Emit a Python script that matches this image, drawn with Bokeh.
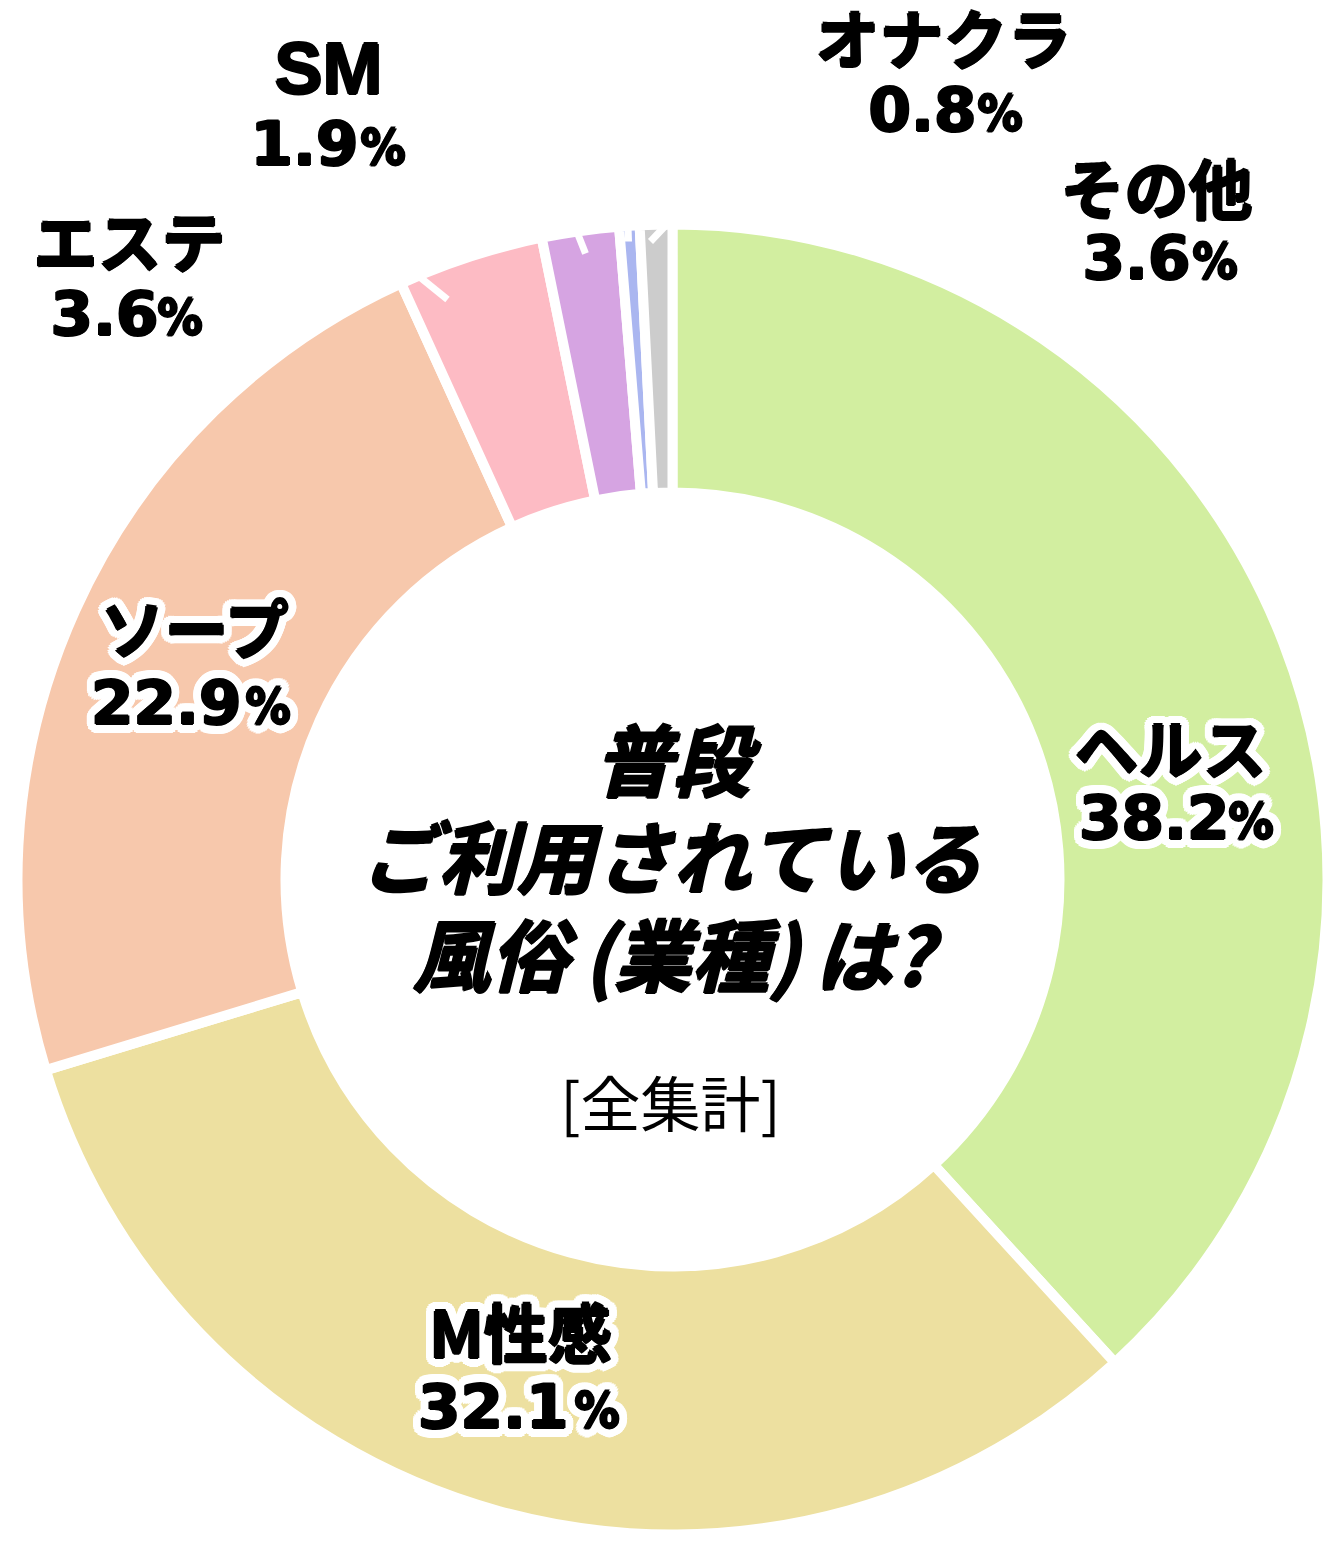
import math
from bokeh.plotting import figure
from bokeh.models import Range1d, ColumnDataSource
from bokeh.core.properties import value
from bokeh.embed import file_html
from bokeh.resources import INLINE

# ---------------- data ----------------
categories = ["ヘルス", "M性感", "ソープ", "エステ", "SM", "オナクラ", "その他"]
shares = [38.2, 32.1, 22.9, 3.6, 1.9, 0.5, 0.8]          # slice sizes as drawn
pct_text = ["38.2", "32.1", "22.9", "3.6", "1.9", "0.8", "3.6"]  # printed labels
colors = ["#d2eea0", "#ede0a0", "#f7c8ac", "#fdbbc4", "#d6a4e2", "#aab6f0", "#cccccc"]

title_lines = ["普段", "ご利用されている", "風俗\u2009(業種)\u2009は?"]
subtitle = "[全集計]"

# ---------------- layout (reference pixel coords, y down) ----------------
CX, CY = 672, 879
R_OUT, R_IN = 655, 387
name_x = [1170, 520, 196, 129, 328, 943, 1156]
name_y = [745, 1329, 625, 238, 68, 35, 185]
num_rx = [1229, 568, 241, 158, 358, 976, 1190]
pct_lx = [1228, 574, 245, 157, 360, 977, 1192]
base_y = [843, 1432, 728, 339, 169, 135, 283]
halo = [True, True, True, False, False, False, False]

name_fonts = ["Noto Sans CJK JP"] * 7
name_fonts[4] = "Liberation Sans"
name_sizes = ["64px"] * 7
name_sizes[4] = "72px"

leaders = [((447, 299), (405, 265)), ((585, 253), (570, 215)),
           ((628, 241), (627, 212)), ((650, 241), (668, 222))]

W, H = 1326, 1534
p = figure(width=W, height=H, x_range=Range1d(0, W), y_range=Range1d(-H, 0),
           output_backend="svg", toolbar_location=None, min_border=0)
p.axis.visible = False
p.grid.visible = False
p.outline_line_color = None
p.background_fill_color = "white"
p.border_fill_color = "white"

# ---------------- donut ----------------
total = sum(shares)
cum = 0.0
starts, ends = [], []
for s in shares:
    a0 = cum / total * 2 * math.pi
    cum += s
    a1 = cum / total * 2 * math.pi
    starts.append(math.pi / 2 - a1)
    ends.append(math.pi / 2 - a0)

wsrc = ColumnDataSource(dict(start=starts, end=ends, color=colors, cat=categories))
p.annular_wedge(x=CX, y=-CY, inner_radius=R_IN, outer_radius=R_OUT,
                start_angle="start", end_angle="end", fill_color="color",
                line_color="white", line_width=10, line_join="round", source=wsrc)

p.segment(x0=[a[0] for a, b in leaders], y0=[-a[1] for a, b in leaders],
          x1=[b[0] for a, b in leaders], y1=[-b[1] for a, b in leaders],
          line_color="white", line_width=7)

# ---------------- labels ----------------
def mk_src(mask):
    sel = [i for i, m in enumerate(mask) if m]
    return ColumnDataSource(dict(
        name=[categories[i] for i in sel], nx=[name_x[i] for i in sel],
        ny=[-name_y[i] for i in sel], num=[pct_text[i] for i in sel],
        rx=[num_rx[i] for i in sel], lx=[pct_lx[i] for i in sel],
        dy_num=[-(base_y[i] - 27) for i in sel],
        dy_pct=[-(base_y[i] - 22) for i in sel],
        nfont=[name_fonts[i] for i in sel],
        nsize=[name_sizes[i] for i in sel], pct=["%"] * len(sel)))

lsrc = mk_src([True] * len(categories))
hsrc = mk_src(halo)

NUM_FONT = value("DejaVu Sans")
PCT_FONT = value("'Liberation Sans Narrow', 'DejaVu Sans Condensed', 'Liberation Sans', sans-serif")


def label_set(src, color, dx, dy):
    p.text(x="nx", y="ny", text="name", source=src, text_font="nfont",
           text_font_size="nsize", text_font_style="bold", text_color=color,
           text_align="center", text_baseline="middle", x_offset=dx, y_offset=dy)
    p.text(x="rx", y="dy_num", text="num", source=src, text_font=NUM_FONT,
           text_font_size="61px", text_font_style="bold", text_color=color,
           text_align="right", text_baseline="middle", x_offset=dx, y_offset=dy)
    p.text(x="lx", y="dy_pct", text="pct", source=src, text_font=PCT_FONT,
           text_font_size="50px", text_font_style="bold", text_color=color,
           text_align="left", text_baseline="middle", x_offset=dx, y_offset=dy)


halo_offsets = []
for k in range(24):
    a = 2 * math.pi * k / 24
    halo_offsets.append((9 * math.cos(a), 9 * math.sin(a)))
for k in range(12):
    a = 2 * math.pi * k / 12 + math.pi / 12
    halo_offsets.append((5 * math.cos(a), 5 * math.sin(a)))

for dx, dy in halo_offsets:
    label_set(hsrc, "white", dx, dy)

fat_offsets = [(0, 0), (1.2, 0), (-1.2, 0), (0, 1.2), (0, -1.2)]
for dx, dy in fat_offsets:
    label_set(lsrc, "black", dx, dy)

# ---------------- center title ----------------
title_y = [756, 853, 951]
for dx, dy in fat_offsets:
    p.text(x=[672] * 3, y=[-v for v in title_y], text=title_lines,
           text_font=value("Noto Sans CJK JP"), text_font_size="78px",
           text_font_style="bold italic", text_color="black",
           text_align="center", text_baseline="middle", x_offset=dx, y_offset=dy)
p.text(x=[670], y=[-1100], text=[subtitle], text_font=value("Noto Sans CJK JP"),
       text_font_size="60px", text_font_style="normal", text_color="black",
       text_align="center", text_baseline="middle")

open("out.html", "w").write(file_html(p, INLINE))
